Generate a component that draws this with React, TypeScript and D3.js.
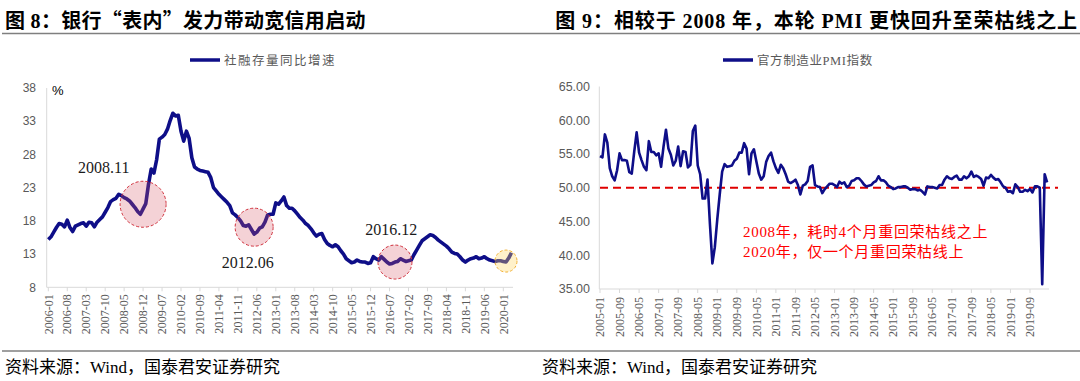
import React from "react";
import * as d3 from "d3";

// ---------- data ----------
const tsfStart = "2006-01";
// 社融存量同比增速 (%), monthly 2006-01 .. 2020-04
const tsfGrowth = [
  15.2, 15.6, 16.3, 17.0, 17.6, 17.5, 17.1, 18.1, 17.0, 16.4, 17.2, 17.4,
  17.6, 17.7, 17.2, 17.8, 17.7, 17.1, 17.8, 18.2, 18.6, 19.3, 20.0, 20.9,
  21.2, 21.4, 22.0, 21.8, 21.5, 21.3, 21.0, 20.5, 20.0, 19.4, 19.0, 19.8,
  20.6, 23.5, 25.8, 25.2, 27.2, 30.3, 30.6, 31.0, 31.8, 33.1, 34.2, 33.8,
  33.9, 31.5, 30.0, 31.5, 30.4, 27.5, 26.1, 25.8, 25.6, 25.5, 25.4, 25.3,
  24.5, 23.0, 22.5, 22.0, 21.6, 21.2, 20.8, 20.3, 19.2, 18.9, 18.5, 18.0,
  17.3, 17.2, 17.4, 16.7, 16.0, 16.3, 16.9, 17.1, 17.8, 18.9, 19.0, 19.0,
  20.7, 20.5, 21.0, 21.6, 20.3, 19.9, 19.9, 19.5, 19.0, 18.5, 18.1, 17.6,
  17.3, 16.8, 16.2, 15.7, 16.0, 16.1, 15.2, 14.6, 14.3, 14.1, 14.4, 14.1,
  13.5, 13.0, 12.3, 12.0, 11.7, 11.8, 12.1, 11.9, 11.8, 11.8, 11.6, 11.7,
  12.6, 12.3, 12.1, 12.6, 12.2, 11.8, 11.5, 11.6, 11.8, 11.9, 12.3, 12.1,
  11.9, 12.0, 12.1, 12.9, 13.6, 14.3, 15.0, 15.3, 15.6, 15.9, 15.8, 15.5,
  15.1, 14.8, 14.5, 14.2, 13.8, 13.3, 13.1, 13.0, 12.6, 12.1, 11.8, 12.1,
  12.3, 12.4, 12.6, 12.3, 12.4, 12.6, 12.3, 12.1, 12.0, 11.9, 12.0, 12.0,
  11.9, 11.8, 12.4, 13.2,
];

const pmiStart = "2005-01";
// 官方制造业PMI指数, monthly 2005-01 .. 2020-04
const pmiValues = [
  54.7, 54.5, 57.9, 56.7, 52.9, 51.7, 51.1, 52.6, 55.1, 54.1, 54.1, 54.0,
  52.3, 52.1, 55.3, 58.2, 55.2, 54.1, 53.1, 52.6, 56.9, 55.3, 55.3, 54.8,
  55.1, 53.1, 56.1, 58.6, 55.8, 54.9, 53.3, 54.0, 56.1, 53.2, 55.4, 55.3,
  53.0, 53.4, 58.4, 59.2, 53.3, 52.0, 48.4, 48.4, 51.2, 44.6, 38.8, 41.2,
  45.3, 49.0, 52.4, 53.5, 53.1, 53.2, 53.3, 54.0, 54.3, 55.2, 55.2, 56.6,
  55.8, 52.0, 55.1, 55.7, 53.9, 52.1, 51.2, 51.7, 53.8, 54.7, 55.2, 53.9,
  52.9, 52.2, 53.4, 52.9, 52.0, 50.9, 50.7, 50.9, 51.2, 50.4, 49.0, 50.3,
  50.5, 51.0, 53.1, 53.3, 50.4, 50.2, 50.1, 49.2, 49.8, 50.2, 50.6, 50.6,
  50.4, 50.1, 50.9, 50.6, 50.8, 50.1, 50.3, 51.0, 51.1, 51.4, 51.4, 51.0,
  50.5, 50.2, 50.3, 50.4, 50.8, 51.0, 51.7, 51.1, 51.1, 50.8, 50.3, 50.1,
  49.8, 49.9, 50.1, 50.1, 50.2, 50.2, 50.0, 49.7, 49.8, 49.8, 49.6, 49.7,
  49.4, 49.0, 50.2, 50.1, 50.1, 50.0, 49.9, 50.4, 50.4, 51.2, 51.7, 51.4,
  51.3, 51.6, 51.8, 51.2, 51.2, 51.7, 51.4, 51.7, 52.4, 51.6, 51.8, 51.6,
  51.3, 50.3, 51.5, 51.4, 51.9, 51.5, 51.2, 51.3, 50.8, 50.2, 50.0, 49.4,
  49.5, 49.2, 50.5, 50.1, 49.4, 49.4, 49.7, 49.5, 49.8, 49.3, 50.2, 50.2,
  50.0, 35.7, 52.0, 50.8,
];

const leftYTicks = [8, 13, 18, 23, 28, 33, 38];
const rightYTicks = [35, 40, 45, 50, 55, 60, 65];
const leftXTicks = [
  "2006-01", "2006-08", "2007-03", "2007-10", "2008-05", "2008-12", "2009-07",
  "2010-02", "2010-09", "2011-04", "2011-11", "2012-06", "2013-01", "2013-08",
  "2014-03", "2014-10", "2015-05", "2015-12", "2016-07", "2017-02", "2017-09",
  "2018-04", "2018-11", "2019-06", "2020-01",
];
const rightXTicks = [
  "2005-01", "2005-09", "2006-05", "2007-01", "2007-09", "2008-05", "2009-01",
  "2009-09", "2010-05", "2011-01", "2011-09", "2012-05", "2013-01", "2013-09",
  "2014-05", "2015-01", "2015-09", "2016-05", "2017-01", "2017-09", "2018-05",
  "2019-01", "2019-09",
];
const rongkuLine = 50;

const leftCircles = [
  { date: "2008-12", value: 20.5, r: 23, label: "2008.11", labelDate: "2006-12", labelValue: 25.2, kind: "red" },
  { date: "2012-05", value: 17.05, r: 19, label: "2012.06", labelDate: "2011-05", labelValue: 10.9, kind: "red" },
  { date: "2016-09", value: 11.8, r: 17, label: "2016.12", labelDate: "2015-10", labelValue: 15.9, kind: "red" },
  { date: "2020-02", value: 11.95, r: 11, label: "", labelDate: "", labelValue: 0, kind: "yellow" },
];

const rightNotes = ["2008年，耗时4个月重回荣枯线之上", "2020年，仅一个月重回荣枯线上"];

// ---------- helpers ----------
function mIdx(label: string, start: string) {
  const [y, m] = label.split("-").map(Number);
  const [sy, sm] = start.split("-").map(Number);
  return (y - sy) * 12 + (m - sm);
}

const NAVY = "#0e0e88";
const AXIS = "#d9d9d9";
const GREY = "#595959";
const SERIF = "'Liberation Serif', 'Noto Sans CJK SC', serif";
const CJK = "'Noto Sans CJK SC', sans-serif";

export default function App() {
  const xL = d3.scaleLinear().domain([0, 168]).range([48.3, 503.3]);
  const yL = d3.scaleLinear().domain([8, 38]).range([287.3, 88]);
  const lineL = d3
    .line<number>()
    .x((_, i) => xL(i))
    .y((d) => yL(d));

  const xR = d3.scaleLinear().domain([0, 176]).range([600, 1030]);
  const yR = d3.scaleLinear().domain([35, 65]).range([289, 86.5]);
  const lineR = d3
    .line<number>()
    .x((_, i) => xR(i))
    .y((d) => yR(d));

  const leftAxisX = 46.7;
  const rightAxisX = 599.3;

  return (
    <svg
      width={1080}
      height={381}
      style={{ position: "absolute", left: 0, top: 0, background: "#fff" }}
    >
      <rect x={0} y={0} width={1080} height={381} fill="#fff" />
      {/* Titles */}
      <text x={5} y={27.5} fontFamily={SERIF} fontWeight="bold" fontSize={20} fill="#000" letterSpacing={0.3}>
        图 8：银行<tspan fontFamily={CJK}>“</tspan>表内<tspan fontFamily={CJK}>”</tspan>发力带动宽信用启动
      </text>
      <text x={1078} y={27.5} textAnchor="end" fontFamily={SERIF} fontWeight="bold" fontSize={20} fill="#000" letterSpacing={0.9}>
        图 9：相较于 2008 年，本轮 PMI 更快回升至荣枯线之上
      </text>
      <line x1={2} x2={1080} y1={33.5} y2={33.5} stroke="#7f7f7f" strokeWidth={1.6} />

      {/* Legends */}
      <line x1={190} x2={220} y1={60} y2={60} stroke={NAVY} strokeWidth={3.5} />
      <text x={224} y={64.5} fontFamily={CJK} fontSize={12.5} fill={GREY} letterSpacing={1.5}>
        社融存量同比增速
      </text>
      <line x1={723} x2={753} y1={60} y2={60} stroke={NAVY} strokeWidth={3.5} />
      <text x={757} y={64.5} fontFamily={SERIF} fontSize={12.5} fill={GREY} letterSpacing={0.6}>
        官方制造业PMI指数
      </text>

      {/* ---------- Left chart ---------- */}
      <line x1={leftAxisX} x2={leftAxisX} y1={yL(38)} y2={yL(8)} stroke={AXIS} />
      <line x1={leftAxisX} x2={513} y1={yL(8)} y2={yL(8)} stroke={AXIS} />
      {leftYTicks.map((t) => (
        <text key={t} x={36} y={yL(t)} dy="0.35em" textAnchor="end" fontFamily="'Liberation Sans', sans-serif" fontSize={12} fill={GREY}>
          {t}
        </text>
      ))}
      <text x={52} y={94.5} fontFamily="'Liberation Sans', sans-serif" fontSize={13} fill="#000">
        %
      </text>
      {leftXTicks.map((t) => {
        const x = xL(mIdx(t, tsfStart));
        return (
          <g key={t}>
            <line x1={x} x2={x} y1={yL(8)} y2={yL(8) + 4} stroke={AXIS} />
            <text
              transform={`translate(${x},${yL(8) + 7}) rotate(-90)`}
              textAnchor="end"
              dy="0.35em"
              fontFamily={SERIF}
              fontSize={12}
              fill={GREY}
            >
              {t}
            </text>
          </g>
        );
      })}
      <path d={lineL(tsfGrowth) || ""} fill="none" stroke={NAVY} strokeWidth={3.6} strokeLinejoin="round" />
      {leftCircles.map((c, i) => {
        const cx = xL(mIdx(c.date, tsfStart));
        const cy = yL(c.value);
        const red = c.kind === "red";
        return (
          <g key={i}>
            <circle
              cx={cx}
              cy={cy}
              r={c.r}
              fill={red ? "rgba(214,90,105,0.27)" : "rgba(255,214,102,0.35)"}
              stroke={red ? "#d0303c" : "#f2b134"}
              strokeWidth={1}
              strokeDasharray="3,2"
            />
            {c.label && (
              <text
                x={xL(mIdx(c.labelDate, tsfStart))}
                y={yL(c.labelValue)}
                fontFamily={SERIF}
                fontSize={16}
                fill="#1a1a1a"
              >
                {c.label}
              </text>
            )}
          </g>
        );
      })}

      {/* ---------- Right chart ---------- */}
      <line x1={rightAxisX} x2={rightAxisX} y1={yR(65)} y2={yR(35)} stroke={AXIS} />
      <line x1={rightAxisX} x2={1049} y1={yR(35)} y2={yR(35)} stroke={AXIS} />
      {rightYTicks.map((t) => (
        <text key={t} x={590} y={yR(t)} dy="0.35em" textAnchor="end" fontFamily="'Liberation Sans', sans-serif" fontSize={12.5} fill={GREY}>
          {t.toFixed(2)}
        </text>
      ))}
      {rightXTicks.map((t) => {
        const x = xR(mIdx(t, pmiStart));
        return (
          <g key={t}>
            <line x1={x} x2={x} y1={yR(35)} y2={yR(35) + 4} stroke={AXIS} />
            <text
              transform={`translate(${x},${yR(35) + 8}) rotate(-90)`}
              textAnchor="end"
              dy="0.35em"
              fontFamily={SERIF}
              fontSize={12}
              fill={GREY}
            >
              {t}
            </text>
          </g>
        );
      })}
      <line x1={xR(0)} x2={1058} y1={yR(rongkuLine)} y2={yR(rongkuLine)} stroke="#e00000" strokeWidth={1.8} strokeDasharray="8,5" />
      <path d={lineR(pmiValues) || ""} fill="none" stroke={NAVY} strokeWidth={2.6} strokeLinejoin="round" />
      {rightNotes.map((n, i) => (
        <text key={i} x={743} y={237 + i * 20} fontFamily={SERIF} fontSize={15} fill="#ff0000" letterSpacing={0.7}>
          {n}
        </text>
      ))}

      {/* Footers */}
      <line x1={2} x2={1080} y1={351} y2={351} stroke="#7f7f7f" strokeWidth={1.6} />
      <text x={5} y={373} fontFamily={SERIF} fontSize={17} fill="#000">
        资料来源：Wind，国泰君安证券研究
      </text>
      <text x={542} y={373} fontFamily={SERIF} fontSize={17} fill="#000">
        资料来源：Wind，国泰君安证券研究
      </text>
    </svg>
  );
}
